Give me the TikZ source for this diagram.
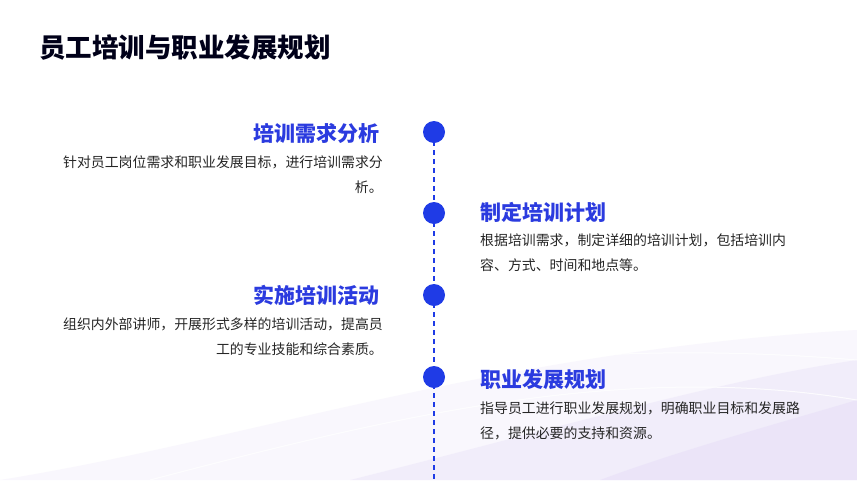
\documentclass[tikz,border=0pt]{standalone}
\usepackage{fontspec}
\setmainfont{Noto Sans CJK SC}
\begin{document}
\begin{tikzpicture}[x=1pt,y=-1pt,
  head/.style={font=\fontsize{21}{24}\selectfont\bfseries, text=hblue, inner sep=0pt},
  desc/.style={font=\fontsize{13.9}{24.5}\selectfont, text=black!85, inner sep=0pt},
  dot/.style={circle, fill=dblue, minimum size=22pt, inner sep=0pt}]
\definecolor{hblue}{HTML}{2B3BDF}
\definecolor{dblue}{HTML}{1F3BE6}
\definecolor{wave}{HTML}{C9B8F0}
\useasboundingbox (0,0) rectangle (857,480);
\fill[white] (0,0) rectangle (857,480);
\fill[wave!12] (0,480) .. controls (250,440) and (500,350) .. (857,330) -- (857,480) -- cycle;
\fill[wave!30,opacity=0.7] (350,480) .. controls (550,430) and (720,380) .. (857,360) -- (857,480) -- cycle;
\fill[wave!45,opacity=0.6] (600,480) .. controls (680,450) and (790,420) .. (857,400) -- (857,480) -- cycle;
\draw[white,line width=1pt,opacity=0.8] (0,460) .. controls (250,400) and (500,330) .. (857,360);
\draw[white,line width=1pt,opacity=0.8] (150,480) .. controls (380,420) and (620,360) .. (857,400);
\node[anchor=west, font=\fontsize{26.5}{30}\selectfont\bfseries, text=black!90!blue, inner sep=0pt] (title) at (39,47) {员工培训与职业发展规划};
\coordinate (top) at (434,132);
\coordinate (bot) at (434,480);
\draw[dblue, line width=1.3pt, dash pattern=on 5pt off 4pt] (top) -- (bot);
\node[dot] (d1) at (434,132) {};
\node[dot] (d2) at (434,213) {};
\node[dot] (d3) at (434,295) {};
\node[dot] (d4) at (434,377) {};
\node[head, anchor=east] (h1) at (380,133) {培训需求分析};
\node[desc, anchor=north east, align=right] (t1) at (383,156) {针对员工岗位需求和职业发展目标，进行培训需求分\\析。};
\node[head, anchor=west] (h2) at (480,212) {制定培训计划};
\node[desc, anchor=north west, align=left] (t2) at (480,234) {根据培训需求，制定详细的培训计划，包括培训内\\容、方式、时间和地点等。};
\node[head, anchor=east] (h3) at (380,295) {实施培训活动};
\node[desc, anchor=north east, align=right] (t3) at (383,318) {组织内外部讲师，开展形式多样的培训活动，提高员\\工的专业技能和综合素质。};
\node[head, anchor=west] (h4) at (480,380) {职业发展规划};
\node[desc, anchor=north west, align=left] (t4) at (480,402) {指导员工进行职业发展规划，明确职业目标和发展路\\径，提供必要的支持和资源。};
\end{tikzpicture}
\end{document}
